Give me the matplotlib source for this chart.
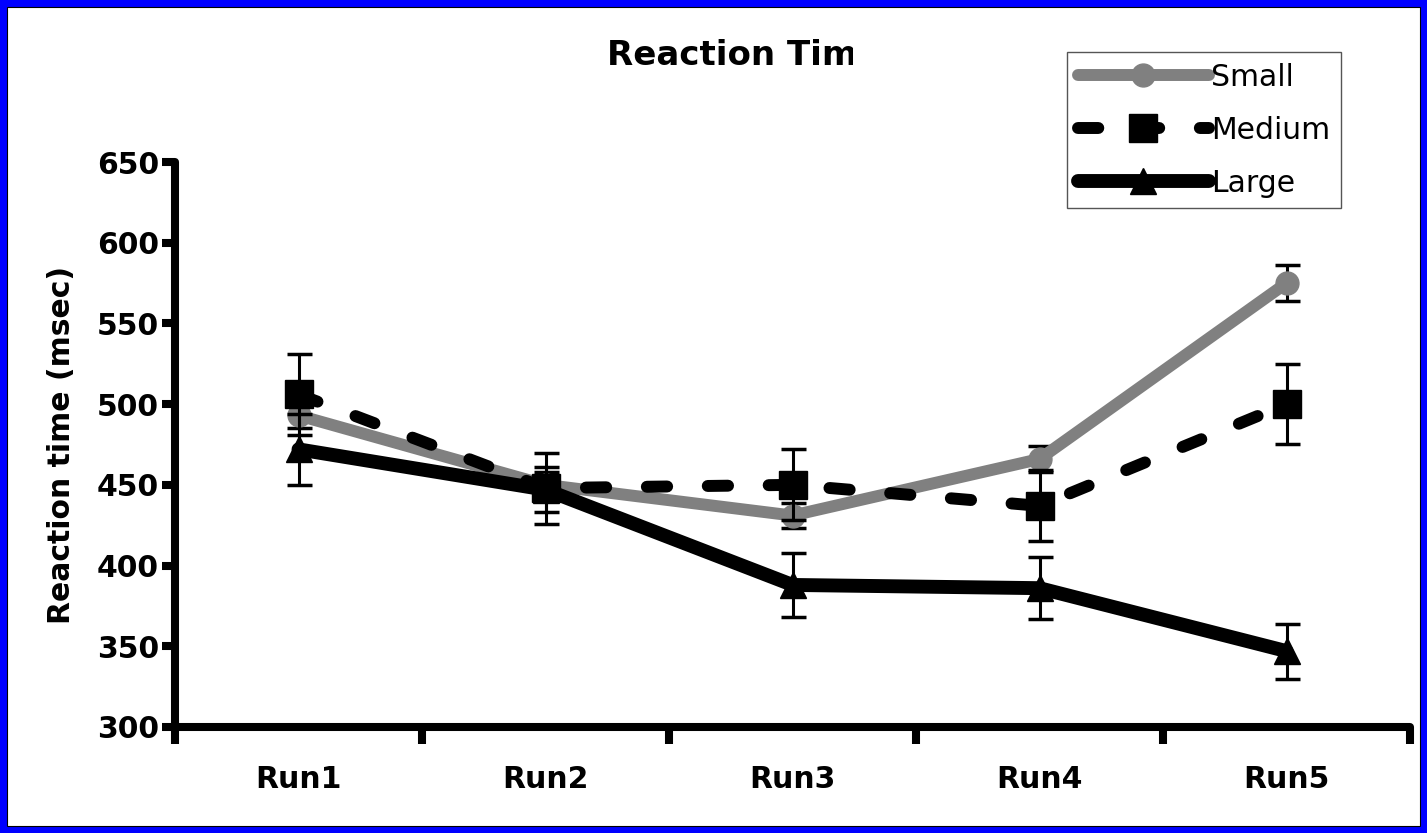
import matplotlib
matplotlib.use("Agg")
import matplotlib.pyplot as plt
import numpy as np
from matplotlib.patches import Rectangle
from matplotlib.transforms import Bbox, TransformedBbox

# mean reaction time per run and its error, one list per stimulus size
runs = ['Run1', 'Run2', 'Run3', 'Run4', 'Run5']
small_mean = [493, 450, 431, 466, 575]
small_err = [8, 8, 8, 8, 11]
medium_mean = [506, 448, 450, 437, 500]
medium_err = [25, 22, 22, 22, 25]
large_mean = [472, 447, 388, 386, 347]
large_err = [22, 14, 20, 19, 17]

W, H = 1427, 833
fig = plt.figure(figsize=(W / 100, H / 100), dpi=100)
fig.patch.set_facecolor('#0000ff')
fig.add_artist(Rectangle((7 / W, 7 / H), (W - 14) / W, (H - 14) / H,
                         transform=fig.transFigure, facecolor='white',
                         edgecolor='black', lw=0.8, zorder=-1))

ax = fig.add_axes([175 / W, 1 - 727 / H, (1410 - 175) / W, (727 - 162) / H])
ax.set_facecolor('none')

x = np.arange(len(runs)) + 0.5
eb = dict(fmt='none', ecolor='black', elinewidth=2.2, capsize=9, capthick=2.5)

# small: grey circles, solid
ax.errorbar(x, small_mean, yerr=small_err, zorder=2, **eb)
ax.plot(x, small_mean, color='#808080', lw=8.6, marker='o', ms=16.5,
        solid_capstyle='round', zorder=3, label='Small')

# large: black triangles, solid
ax.errorbar(x, large_mean, yerr=large_err, zorder=4, **eb)
ax.plot(x, large_mean, color='black', lw=10, marker='^', ms=19,
        solid_capstyle='round', zorder=5, label='Large')

# medium: black squares, dashed
ax.errorbar(x, medium_mean, yerr=medium_err, zorder=6, **eb)
ax.plot(x, medium_mean, color='black', lw=8.6, marker='s', ms=20,
        dashes=(1.7, 3.4), dash_capstyle='round', zorder=7, label='Medium')

ax.set_xlim(0, 5)
ax.set_ylim(300, 650)
ax.set_yticks(np.arange(300, 651, 50))
ax.set_xticks(np.arange(0, 6))
ax.set_xticklabels([])
ax.set_xticks(x, minor=True)
ax.set_xticklabels(runs, minor=True, fontsize=21.5, fontweight='bold')
ax.tick_params(axis='x', which='major', direction='out', length=12, width=5.8)
ax.tick_params(axis='x', which='minor', length=0, pad=27)
ax.tick_params(axis='y', direction='out', length=9.5, width=5.8, pad=2,
               labelsize=21.5)
for lab in ax.get_yticklabels():
    lab.set_fontweight('bold')

for side in ['top', 'right']:
    ax.spines[side].set_visible(False)
for side in ['left', 'bottom']:
    ax.spines[side].set_linewidth(5.8)
    ax.spines[side].set_capstyle('round')

ax.set_ylabel('Reaction time (msec)', fontsize=21.5, fontweight='bold')
ax.yaxis.set_label_coords(-0.08, 0.5)

title = fig.text(607 / W, 1 - 65 / H, 'Reaction Time', fontsize=24.5,
                 fontweight='bold', ha='left', va='baseline')
title.set_clip_box(TransformedBbox(Bbox([[0, 0], [853 / W, 1]]), fig.transFigure))
title.set_clip_on(True)

handles, labels = ax.get_legend_handles_labels()
order = [0, 2, 1]
leg = ax.legend([handles[i] for i in order], [labels[i] for i in order],
                loc='upper left', bbox_to_anchor=(1067 / W, 1 - 52 / H),
                bbox_transform=fig.transFigure, borderaxespad=0,
                fontsize=21.5, handlelength=4.4, handletextpad=0.05,
                borderpad=0.36, labelspacing=0.8, numpoints=1,
                fancybox=False, framealpha=1, edgecolor='#555555')
leg.get_frame().set_linewidth(1.0)

fig.savefig('out.png', dpi=100)
